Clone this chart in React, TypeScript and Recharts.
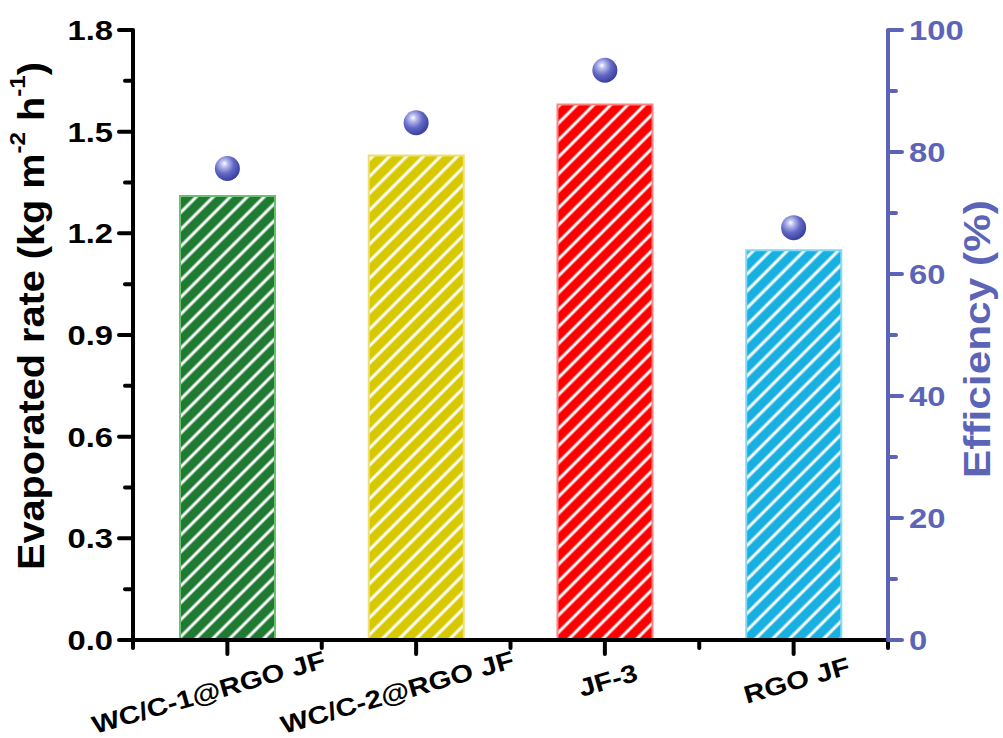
import { ComposedChart, Bar, Cell, Scatter, XAxis, YAxis } from "recharts";

const categories = ["WC/C-1@RGO JF", "WC/C-2@RGO JF", "JF-3", "RGO JF"];
const rates = [1.31, 1.43, 1.58, 1.15];
const efficiency = [77.3, 84.8, 93.4, 67.6];
const barColors = ["#1f7a32", "#d8c800", "#ff0000", "#18b0e0"];
const barBorders = ["#6cc070", "#eee070", "#ff8080", "#80d8f4"];
const leftTicks = [0, 0.15, 0.3, 0.45, 0.6, 0.75, 0.9, 1.05, 1.2, 1.35, 1.5, 1.65, 1.8];
const leftMajor = [0, 0.3, 0.6, 0.9, 1.2, 1.5, 1.8];
const rightTicks = [0, 10, 20, 30, 40, 50, 60, 70, 80, 90, 100];
const rightMajor = [0, 20, 40, 60, 80, 100];

const data = categories.map((name, i) => ({ name, rate: rates[i], eff: efficiency[i] }));

const FONT = "Arial, 'Liberation Sans', sans-serif";
const BLUE = "#5c64b8";
const BAND = 755 / categories.length;
// glyphs in the source are a bit wider than Arial bold
const STRETCH = 1.17;

function LeftTick(props: any) {
  const { x, y, payload } = props;
  const major = leftMajor.includes(payload.value);
  return (
    <g>
      <line x1={x} x2={x - (major ? 14 : 8)} y1={y} y2={y} stroke="#000" strokeWidth={4} strokeLinecap="round" />
      {major && (
        <text
          transform={`translate(${x - 20} ${y + 10}) scale(${STRETCH} 1)`}
          textAnchor="end"
          fontSize={28}
          fontWeight={700}
          fontFamily={FONT}
          fill="#000"
        >
          {payload.value.toFixed(1)}
        </text>
      )}
    </g>
  );
}

function RightTick(props: any) {
  const { x, y, payload } = props;
  const major = rightMajor.includes(payload.value);
  return (
    <g>
      <line x1={x} x2={x + (major ? 14 : 8)} y1={y} y2={y} stroke={BLUE} strokeWidth={4} strokeLinecap="round" />
      {major && (
        <text
          transform={`translate(${x + 21} ${y + 10}) scale(${STRETCH} 1)`}
          textAnchor="start"
          fontSize={28}
          fontWeight={700}
          fontFamily={FONT}
          fill={BLUE}
        >
          {payload.value}
        </text>
      )}
    </g>
  );
}

function BottomTick(props: any) {
  const { x, y, payload, index } = props;
  const long = String(payload.value).length > 8;
  const lx = x - (long ? 19 : -3);
  const ly = y + (long ? 52 : 40);
  return (
    <g>
      <line x1={x} x2={x} y1={y} y2={y + 14} stroke="#000" strokeWidth={4} strokeLinecap="round" />
      <line x1={x + BAND / 2} x2={x + BAND / 2} y1={y} y2={y + 8} stroke="#000" strokeWidth={4} strokeLinecap="round" />
      {index === 0 && (
        <line x1={x - BAND / 2} x2={x - BAND / 2} y1={y} y2={y + 8} stroke="#000" strokeWidth={4} strokeLinecap="round" />
      )}
      <text
        transform={`translate(${lx} ${ly}) rotate(-16) scale(${STRETCH} 1)`}
        y={9}
        textAnchor="middle"
        fontSize={25}
        fontWeight={700}
        fontFamily={FONT}
        fill="#000"
      >
        {payload.value}
      </text>
    </g>
  );
}

function Sphere(props: any) {
  const { cx, cy } = props;
  return <circle cx={cx} cy={cy} r={12.5} fill="url(#sphere)" />;
}

function LeftTitle() {
  const cx = 31;
  const cy = 316;
  return (
    <text
      x={cx}
      y={cy}
      textAnchor="middle"
      dominantBaseline="central"
      fontSize={36}
      fontWeight={700}
      fontFamily={FONT}
      fill="#000"
      textLength={508}
      lengthAdjust="spacingAndGlyphs"
      transform={`rotate(-90 ${cx} ${cy})`}
    >
      Evaporated rate (kg m
      <tspan fontSize={22} dy={-14}>-2</tspan>
      <tspan dy={14}> h</tspan>
      <tspan fontSize={22} dy={-14}>-1</tspan>
      <tspan dy={14}>)</tspan>
    </text>
  );
}

function RightTitle() {
  const cx = 977;
  const cy = 339;
  return (
    <text
      x={cx}
      y={cy}
      textAnchor="middle"
      dominantBaseline="central"
      fontSize={37}
      fontWeight={700}
      fontFamily={FONT}
      fill={BLUE}
      textLength={278}
      lengthAdjust="spacingAndGlyphs"
      transform={`rotate(-90 ${cx} ${cy})`}
    >
      Efficiency (%)
    </text>
  );
}

export default function App() {
  return (
    <div style={{ position: "absolute", left: 0, top: 0, width: 1003, height: 738, background: "#fff" }}>
      <ComposedChart
        width={1003}
        height={738}
        data={data}
        margin={{ top: 30, right: 15, bottom: 0, left: 0 }}
      >
        <defs>
          {barColors.map((c, i) => (
            <pattern
              key={c}
              id={`hatch-${i}`}
              patternUnits="userSpaceOnUse"
              width={12}
              height={12}
              patternTransform="rotate(45)"
            >
              <rect x={0} y={0} width={12} height={12} fill={c} />
              <line x1={2} x2={2} y1={0} y2={12} stroke="#fff" strokeWidth={3} />
            </pattern>
          ))}
          <radialGradient id="sphere" cx="38%" cy="35%" r="70%" fx="38%" fy="30%">
            <stop offset="0%" stopColor="#ffffff" />
            <stop offset="20%" stopColor="#b8bcee" />
            <stop offset="55%" stopColor="#6268c4" />
            <stop offset="100%" stopColor="#343a98" />
          </radialGradient>
        </defs>
        <XAxis
          dataKey="name"
          axisLine={{ stroke: "#000", strokeWidth: 4 }}
          tickLine={false}
          tickSize={0}
          tickMargin={0}
          tick={<BottomTick />}
          interval={0}
          height={98}
        />
        <XAxis
          xAxisId="top"
          dataKey="name"
          orientation="top"
          axisLine={{ stroke: "#000", strokeWidth: 4 }}
          tick={false}
          tickLine={false}
          height={0}
        />
        <YAxis
          yAxisId="left"
          domain={[0, 1.8]}
          ticks={leftTicks}
          interval={0}
          width={133}
          axisLine={{ stroke: "#000", strokeWidth: 4 }}
          tickLine={false}
          tickSize={0}
          tickMargin={0}
          tick={<LeftTick />}
          label={{ content: () => <LeftTitle /> }}
        />
        <YAxis
          yAxisId="right"
          orientation="right"
          domain={[0, 100]}
          ticks={rightTicks}
          interval={0}
          width={100}
          axisLine={{ stroke: BLUE, strokeWidth: 4 }}
          tickLine={false}
          tickSize={0}
          tickMargin={0}
          tick={<RightTick />}
          label={{ content: () => <RightTitle /> }}
        />
        <Bar yAxisId="left" dataKey="rate" barSize={95} isAnimationActive={false}>
          {data.map((d, i) => (
            <Cell key={d.name} fill={`url(#hatch-${i})`} stroke={barBorders[i]} strokeWidth={2} />
          ))}
        </Bar>
        <Scatter yAxisId="right" dataKey="eff" shape={<Sphere />} isAnimationActive={false} />
      </ComposedChart>
    </div>
  );
}
